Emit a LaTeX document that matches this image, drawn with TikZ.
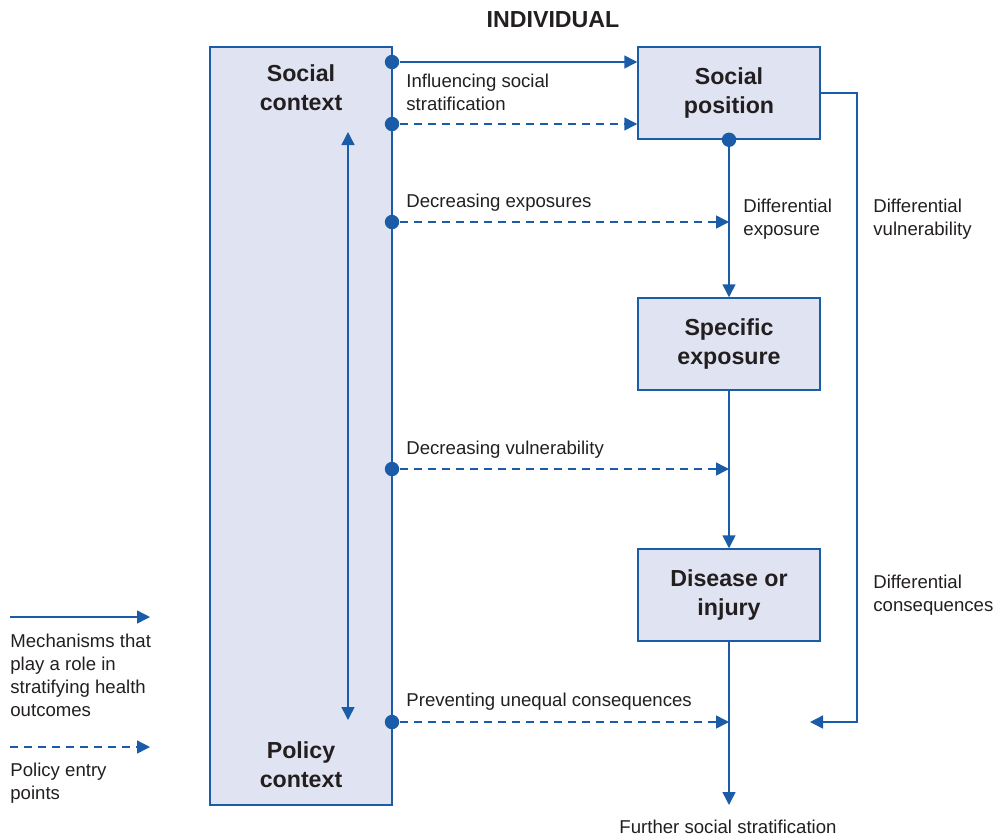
\documentclass[tikz,border=0pt]{standalone}
\usepackage{fontspec}
\setmainfont{Liberation Sans}
\usetikzlibrary{arrows.meta}
\definecolor{lineblue}{HTML}{1B5CA8}
\definecolor{boxfill}{HTML}{E0E3F2}
\definecolor{txtgray}{HTML}{231F20}
\tikzstyle{ctxbox}=[draw=lineblue,fill=boxfill,line width=0.75pt,minimum width=91pt,minimum height=379pt,inner sep=0pt]
\tikzstyle{stepbox}=[draw=lineblue,fill=boxfill,line width=0.75pt,minimum width=91pt,minimum height=46pt,inner sep=0pt,font=\bfseries\fontsize{11.6}{14.5}\selectfont,align=center,text=txtgray]
\tikzstyle{boxtext}=[font=\bfseries\fontsize{11.6}{14.5}\selectfont,align=center,text=txtgray]
\tikzstyle{note}=[font=\fontsize{9.3}{11.5}\selectfont,align=left,anchor=west,inner sep=0pt,text=txtgray]
\tikzstyle{mech}=[draw=lineblue,line width=0.75pt,-{Triangle[length=6.5pt,width=6.5pt]}]
\tikzstyle{entry}=[mech,dash pattern=on 4pt off 3pt]
\tikzstyle{dot}=[circle,fill=lineblue,minimum size=7.2pt,inner sep=0pt]

\begin{document}
\begin{tikzpicture}[x=0.5pt,y=-0.5pt]
  \useasboundingbox (0,0) rectangle (995,836);

  % the context column and its two labels
  \node[ctxbox] (ctx) at (301,426) {};
  \node[boxtext] (soccon) at (301,88) {Social\\context};
  \node[boxtext] (polcon) at (301,765) {Policy\\context};
  \coordinate (ctxtop) at (348,132);
  \coordinate (ctxbot) at (348,720);
  \draw[mech,{Triangle[length=6.5pt,width=6.5pt]}-{Triangle[length=6.5pt,width=6.5pt]}] (ctxtop) -- (ctxbot);

  \node[boxtext] (indiv) at (553,20) {INDIVIDUAL};

  % the individual pathway
  \node[stepbox] (pos) at (729,93) {Social\\position};
  \node[stepbox] (expo) at (729,344) {Specific\\exposure};
  \node[stepbox] (dis) at (729,595) {Disease or\\injury};
  \coordinate (out) at (729,805);

  % entry points on the edge of the context column
  \foreach \y/\name in {62/a, 124/b, 222/c, 469/d, 722/e}
    \node[dot] (\name) at (392,\y) {};
  \node[dot] (posdot) at (pos.south) {};

  \draw[mech] (a) -- (a -| pos.west);
  \draw[entry] (b) -- (b -| pos.west);
  \foreach \name in {c, d, e}
    \draw[entry] (\name) -- (\name -| pos.south);

  \draw[mech] (posdot) -- (expo);
  \draw[mech] (expo) -- (dis);
  \draw[mech] (dis) -- (out);

  % vulnerability loop on the right
  \coordinate (vul) at (857,722);
  \coordinate (cons) at (810,722);
  \draw[mech] (pos.east) -| (vul) -- (cons);

  % labels along the arrows
  \node[note] (n1) at (406,92) {Influencing social\\stratification};
  \node[note] (n2) at (406,203) {Decreasing exposures};
  \node[note] (n3) at (743,219) {Differential\\exposure};
  \node[note] (n4) at (873,219) {Differential\\vulnerability};
  \node[note] (n5) at (406,450) {Decreasing vulnerability};
  \node[note] (n6) at (873,595) {Differential\\consequences};
  \node[note] (n7) at (406,702) {Preventing unequal consequences};
  \node[note,anchor=center] (n8) at (728,827) {Further social stratification};

  % legend
  \coordinate (l1a) at (10,617);
  \coordinate (l1b) at (150,617);
  \coordinate (l2a) at (10,747);
  \coordinate (l2b) at (150,747);
  \draw[mech] (l1a) -- (l1b);
  \draw[entry] (l2a) -- (l2b);
  \node[note] (leg1) at (10,675) {Mechanisms that\\play a role in\\stratifying health\\outcomes};
  \node[note] (leg2) at (10,783) {Policy entry\\points};
\end{tikzpicture}
\end{document}
